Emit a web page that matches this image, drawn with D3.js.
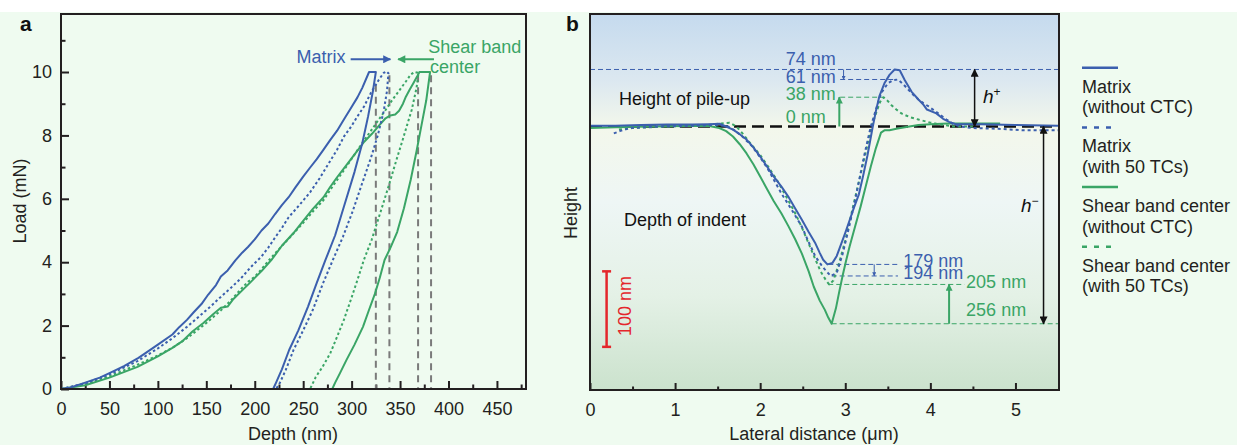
<!DOCTYPE html>
<html>
<head>
<meta charset="utf-8">
<script src="https://cdn.jsdelivr.net/npm/d3@7"></script>
<style>
  body { margin: 0; background: #fff; }
  svg text { font-family: Arial, "Liberation Sans", sans-serif; }
</style>
</head>
<body>
<svg id="chart" width="1237" height="445"></svg>
<script>
// ---------------- data ----------------
// panel a : [depth (nm), load (mN)]
const matrixCurve = [[0,0],[10,0.05],[25,0.2],[40,0.36],[50,0.5],[65,0.72],[80,0.98],[100,1.4],[115,1.72],[122,1.95],[130,2.18],[137,2.42],[145,2.68],[152,2.98],[160,3.28],[165,3.55],[172,3.74],[180,4.06],[187,4.3],[193,4.48],[200,4.72],[207,5.0],[214,5.22],[221,5.52],[228,5.8],[235,6.05],[242,6.36],[250,6.7],[257,6.98],[264,7.25],[271,7.55],[278,7.86],[285,8.15],[292,8.5],[299,8.85],[306,9.2],[311,9.5],[318,10],
  [325,10],[322,9.4],[317,8.6],[311,7.75],[303,6.85],[292,5.75],[283,4.85],[273,4.07],[264,3.35],[255,2.6],[245,1.85],[235.5,1.23],[228,0.62],[222,0.2],[219,0]];
const matrixTCCurve = [[0,0],[25,0.18],[50,0.46],[79,0.88],[100,1.28],[115,1.6],[130,1.96],[143,2.3],[155,2.62],[164,2.88],[175,3.18],[186,3.5],[196,3.85],[207,4.18],[214,4.46],[221,4.78],[228,5.08],[235,5.42],[246,5.8],[257,6.2],[267,6.65],[278,7.2],[285,7.55],[292,7.96],[300,8.3],[306,8.6],[313,8.92],[320,9.35],[328,9.75],[333,9.97],[336,10.02],[338,9.96],
  [336.5,9.4],[333,8.75],[327,8.0],[320,7.3],[311,6.5],[301,5.6],[291,4.8],[280.6,4.07],[270,3.3],[260,2.5],[250,1.85],[240,1.23],[232,0.6],[226,0.2],[222,0]];
const shearCurve = [[0,0],[25,0.12],[50,0.36],[79,0.7],[100,1.03],[115,1.3],[125,1.5],[136,1.82],[147,2.08],[157,2.36],[165,2.56],[172,2.6],[178,2.84],[186,3.08],[196,3.38],[207,3.72],[218,4.1],[228,4.52],[240,4.92],[250,5.3],[260,5.68],[271,6.05],[278,6.38],[285,6.68],[296,7.12],[306,7.52],[313,7.8],[321,8.05],[328,8.3],[335,8.54],[340,8.63],[345,8.66],[349,8.78],[353,9.0],[356,9.22],[360,9.45],[364,9.66],[368,9.88],[370,10],
  [381,10],[377,9.1],[372,8.3],[367,7.5],[361,6.6],[354,5.7],[347,4.95],[340,4.45],[334,4.07],[329,3.5],[324,3.0],[318,2.5],[311.7,1.96],[303,1.4],[294.6,0.91],[288,0.5],[283,0.2],[280,0]];
const shearTCCurve = [[0,0],[25,0.15],[50,0.4],[80,0.78],[100,1.06],[115,1.3],[130,1.6],[150,2.08],[165,2.48],[175,2.78],[186,3.16],[193,3.38],[200,3.54],[207,3.78],[214,4.04],[221,4.28],[235,4.74],[250,5.24],[260,5.6],[271,5.96],[281,6.42],[292,6.9],[302,7.35],[313,7.85],[320,8.15],[328,8.5],[335,8.8],[342,9.12],[350,9.45],[356,9.7],[361,9.92],[365,10.0],[369,9.97],
  [367,9.5],[362,8.8],[357,8.3],[352.6,7.85],[345,7.1],[338,6.38],[330,5.6],[320.6,4.7],[312.6,4.07],[306,3.44],[299,2.8],[292,2.18],[285,1.65],[278,1.13],[270,0.7],[263,0.38],[259,0.12],[257,0]];
const residualDepths = [325, 339, 368.6, 382];
const depthTicks = [0, 50, 100, 150, 200, 250, 300, 350, 400, 450];
const loadTicks = [0, 2, 4, 6, 8, 10];

// panel b : [lateral distance (um), height (nm)]
const matrixProfile = [[0,1],[0.3,1],[0.6,2],[0.9,2.5],[1.2,2.5],[1.4,3],[1.52,3.5],[1.6,0],[1.68,-4],[1.76,-10],[1.84,-17],[1.92,-27],[2.0,-39],[2.08,-52],[2.16,-65],[2.25,-78],[2.33,-91],[2.41,-106],[2.49,-121],[2.57,-137],[2.65,-152],[2.7,-164],[2.74,-173],[2.79,-179],[2.85,-177],[2.9,-168],[2.95,-153],[3.0,-138],[3.05,-122],[3.1,-106],[3.16,-88],[3.21,-64],[3.26,-38],[3.32,-2],[3.36,20],[3.4,39],[3.46,56],[3.52,67],[3.58,74],[3.64,73],[3.7,60],[3.78,45],[3.86,35],[3.92,28],[3.96,22],[4.07,17],[4.15,10],[4.22,6],[4.3,3],[4.6,3],[5.0,2],[5.5,1]];
const matrixTCProfile = [[0.28,-9],[0.35,-6],[0.47,-2],[0.8,0],[1.2,1],[1.5,2],[1.62,0],[1.7,-5],[1.8,-14],[1.9,-25],[2.0,-40],[2.1,-57],[2.25,-87],[2.37,-108],[2.49,-130],[2.57,-150],[2.65,-169],[2.72,-180],[2.77,-187],[2.83,-194],[2.9,-190],[2.97,-165],[3.05,-128],[3.13,-88],[3.22,-39],[3.3,0],[3.36,22],[3.42,43],[3.5,56],[3.56,60],[3.62,61],[3.68,55],[3.74,48],[3.8,41],[3.86,35],[3.92,30],[3.98,26],[4.08,18],[4.19,9],[4.27,3],[4.35,0],[4.5,-2],[4.8,-3],[5.1,-5],[5.5,-5]];
const shearProfile = [[0,-2],[0.3,-1],[0.7,0],[1.1,0.5],[1.4,0.5],[1.52,-2],[1.6,-6],[1.68,-13],[1.76,-23],[1.84,-35],[1.92,-49],[2.0,-65],[2.08,-81],[2.16,-97],[2.25,-113],[2.33,-129],[2.41,-146],[2.49,-165],[2.57,-188],[2.63,-208],[2.7,-226],[2.76,-238],[2.8,-248],[2.84,-256],[2.89,-236],[2.93,-214],[2.97,-193],[3.01,-174],[3.05,-156],[3.1,-136],[3.18,-104],[3.24,-78],[3.3,-52],[3.36,-28],[3.42,-8],[3.46,-5],[3.52,-5],[3.6,-3],[3.7,-1],[3.86,2],[4.0,3],[4.2,4],[4.5,4],[4.82,4]];
const shearTCProfile = [[0.34,-4],[0.5,-2],[0.9,0],[1.3,1],[1.55,4],[1.64,5],[1.72,0],[1.8,-10],[1.9,-24],[2.0,-37],[2.1,-53],[2.2,-70],[2.3,-90],[2.4,-110],[2.49,-131],[2.57,-152],[2.65,-173],[2.71,-188],[2.77,-199],[2.81,-205],[2.86,-200],[2.92,-180],[3.0,-148],[3.1,-100],[3.22,-43],[3.32,4],[3.37,20],[3.41,32],[3.45,38],[3.5,33],[3.54,28],[3.6,22],[3.66,17],[3.76,12],[3.86,9],[4.0,5],[4.1,3],[4.27,0],[4.5,0]];
const lateralTicks = [0, 1, 2, 3, 4, 5];

const legendLabels = [
  ["Matrix", "(without CTC)"],
  ["Matrix", "(with 50 TCs)"],
  ["Shear band center", "(without CTC)"],
  ["Shear band center", "(with 50 TCs)"]
];

// ---------------- setup ----------------
const blue = "#3b5fae";
const green = "#3aa566";
const ink = "#231f20";
const svg = d3.select("#chart");
const defs = svg.append("defs");

// page background (mint)
svg.append("rect").attr("x", 0).attr("y", 12).attr("width", 1237).attr("height", 433).attr("fill", "#effbf0");

function marker(id, color, len, wid) {
  defs.append("marker").attr("id", id)
    .attr("viewBox", "0 0 10 10").attr("refX", 9).attr("refY", 5)
    .attr("markerUnits", "userSpaceOnUse")
    .attr("markerWidth", len).attr("markerHeight", wid)
    .attr("orient", "auto-start-reverse")
    .append("path").attr("d", "M0,0L10,5L0,10z").attr("fill", color);
}
marker("arrBlueA", blue, 12, 8);
marker("arrGreenA", green, 12, 8);
marker("arrBlack", "#111", 10, 8);
marker("arrGreen", green, 10, 7);
marker("arrBlueS", blue, 5, 4);

function styleAxis(g) {
  g.select(".domain").remove();
  g.selectAll(".tick line").attr("stroke", ink).attr("stroke-width", 2);
  g.selectAll(".tick text").attr("fill", ink).attr("font-size", "18px");
}

// ================= panel a =================
const ax = d3.scaleLinear().domain([0, 480]).range([61, 526]);
const ay = d3.scaleLinear().domain([0, 11.83]).range([389, 14]);

const gA = svg.append("g");

// minor + major ticks
gA.append("g").attr("transform", "translate(0,389)")
  .call(d3.axisBottom(ax).tickValues(d3.range(25, 480, 50)).tickSize(-4.5).tickFormat(""))
  .call(styleAxis);
gA.append("g").attr("transform", "translate(0,389)")
  .call(d3.axisBottom(ax).tickValues(depthTicks).tickSize(-8).tickPadding(13).tickFormat(d3.format("d")))
  .call(styleAxis);
gA.append("g").attr("transform", "translate(61,0)")
  .call(d3.axisLeft(ay).tickValues([1, 3, 5, 7, 9, 11]).tickSize(-4.5).tickFormat(""))
  .call(styleAxis);
gA.append("g").attr("transform", "translate(61,0)")
  .call(d3.axisLeft(ay).tickValues(loadTicks).tickSize(-8).tickPadding(9).tickFormat(d3.format("d")))
  .call(styleAxis);

// residual depth markers
gA.selectAll(".resid")
  .data(residualDepths)
  .join("line")
  .attr("x1", d => ax(d)).attr("x2", d => ax(d))
  .attr("y1", (d, i) => ay(i === 0 ? 9.6 : 9.9)).attr("y2", ay(0))
  .attr("stroke", "#7a7a7a").attr("stroke-width", 2)
  .attr("stroke-dasharray", "7,5");

const lineA = d3.line().x(d => ax(d[0])).y(d => ay(d[1]));
const seriesA = [
  { data: shearTCCurve, color: green, dash: "2.5,2.5" },
  { data: shearCurve, color: green, dash: null },
  { data: matrixTCCurve, color: blue, dash: "2.5,2.5" },
  { data: matrixCurve, color: blue, dash: null }
];
gA.selectAll(".curve")
  .data(seriesA)
  .join("path")
  .attr("d", d => lineA(d.data))
  .attr("fill", "none")
  .attr("stroke", d => d.color)
  .attr("stroke-width", 2)
  .attr("stroke-linejoin", "round")
  .attr("stroke-dasharray", d => d.dash);

// annotations
gA.append("text").attr("x", ax(243)).attr("y", ay(10.28))
  .attr("fill", blue).attr("font-size", "18px").text("Matrix");
gA.append("line").attr("x1", ax(299)).attr("x2", ax(340))
  .attr("y1", ay(10.4)).attr("y2", ay(10.4))
  .attr("stroke", blue).attr("stroke-width", 2).attr("marker-end", "url(#arrBlueA)");
gA.append("line").attr("x1", ax(385)).attr("x2", ax(348))
  .attr("y1", ay(10.4)).attr("y2", ay(10.4))
  .attr("stroke", green).attr("stroke-width", 2).attr("marker-end", "url(#arrGreenA)");
gA.append("text").attr("x", ax(379)).attr("y", ay(10.6))
  .attr("fill", green).attr("font-size", "18px").text("Shear band");
gA.append("text").attr("x", ax(381)).attr("y", ay(9.97))
  .attr("fill", green).attr("font-size", "18px").text("center");

// frame
gA.append("rect").attr("x", 61).attr("y", 14).attr("width", 465).attr("height", 375)
  .attr("fill", "none").attr("stroke", ink).attr("stroke-width", 2);

gA.append("text").attr("x", 293).attr("y", 440).attr("text-anchor", "middle")
  .attr("font-size", "18px").attr("fill", ink).text("Depth (nm)");
gA.append("text").attr("transform", "translate(26,201) rotate(-90)")
  .attr("text-anchor", "middle").attr("font-size", "18px").attr("fill", ink).text("Load (mN)");
gA.append("text").attr("x", 20).attr("y", 31).attr("font-size", "21px")
  .attr("font-weight", "bold").attr("fill", "#111").text("a");

// ================= panel b =================
const bx = d3.scaleLinear().domain([0, 5.5]).range([590, 1058]);
const by = d3.scaleLinear().domain([-342, 146]).range([390, 14]);

const grad = defs.append("linearGradient").attr("id", "bgB")
  .attr("x1", "0%").attr("y1", "0%").attr("x2", "0%").attr("y2", "100%");
grad.selectAll("stop")
  .data([
    { o: "0%", c: "#c5daee" },
    { o: "18%", c: "#dce8f0" },
    { o: "30%", c: "#f3f7eb" },
    { o: "50%", c: "#eef6f5" },
    { o: "75%", c: "#e4f1e6" },
    { o: "100%", c: "#cbe2cd" }
  ])
  .join("stop").attr("offset", d => d.o).attr("stop-color", d => d.c);

const gB = svg.append("g");
gB.append("rect").attr("x", 590).attr("y", 14).attr("width", 469).attr("height", 376)
  .attr("fill", "url(#bgB)");

gB.append("g").attr("transform", "translate(0,390)")
  .call(d3.axisBottom(bx).tickValues(d3.range(0.5, 5.5, 1)).tickSize(-3.5).tickFormat(""))
  .call(styleAxis);
gB.append("g").attr("transform", "translate(0,390)")
  .call(d3.axisBottom(bx).tickValues(lateralTicks).tickSize(-7).tickPadding(13).tickFormat(d3.format("d")))
  .call(styleAxis);

// reference guide lines
function guide(x1, x2, h, color) {
  gB.append("line").attr("x1", bx(x1)).attr("x2", bx(x2))
    .attr("y1", by(h)).attr("y2", by(h))
    .attr("stroke", color).attr("stroke-width", 1).attr("stroke-dasharray", "5,3");
}
guide(0, 5.5, 74, blue);
guide(2.94, 3.6, 61, blue);
guide(2.94, 3.44, 38, green);
guide(2.8, 3.62, -179, blue);
guide(2.84, 3.62, -194, blue);
guide(2.8, 4.4, -205, green);
guide(2.84, 5.5, -256, green);

// baseline
gB.append("line").attr("x1", bx(0)).attr("x2", bx(5.5))
  .attr("y1", by(0)).attr("y2", by(0))
  .attr("stroke", "#111").attr("stroke-width", 2.5).attr("stroke-dasharray", "12,6");

const lineB = d3.line().x(d => bx(d[0])).y(d => by(d[1]));
const seriesB = [
  { data: shearTCProfile, color: green, dash: "3,3" },
  { data: shearProfile, color: green, dash: null },
  { data: matrixTCProfile, color: blue, dash: "3,3" },
  { data: matrixProfile, color: blue, dash: null }
];
gB.selectAll(".profile")
  .data(seriesB)
  .join("path")
  .attr("d", d => lineB(d.data))
  .attr("fill", "none")
  .attr("stroke", d => d.color)
  .attr("stroke-width", 2)
  .attr("stroke-linejoin", "round")
  .attr("stroke-dasharray", d => d.dash);

// arrows
function arrow(x, h1, h2, color, mk, w, both) {
  const l = gB.append("line").attr("x1", bx(x)).attr("x2", bx(x))
    .attr("y1", by(h1)).attr("y2", by(h2))
    .attr("stroke", color).attr("stroke-width", w)
    .attr("marker-end", `url(#${mk})`);
  if (both) l.attr("marker-start", `url(#${mk})`);
}
arrow(2.98, 74, 61, blue, "arrBlueS", 1, false);
arrow(3.34, -179, -194, blue, "arrBlueS", 1, false);
arrow(2.93, 0, 38, green, "arrGreen", 2, false);
arrow(4.22, -256, -205, green, "arrGreen", 2, false);
arrow(4.52, 0, 74, "#111", "arrBlack", 1.5, true);
arrow(5.33, 0, -256, "#111", "arrBlack", 1.5, true);

// value labels
const valueLabels = [
  { t: "74 nm", x: 2.3, h: 80, c: blue },
  { t: "61 nm", x: 2.3, h: 56, c: blue },
  { t: "38 nm", x: 2.3, h: 34, c: green },
  { t: "0 nm", x: 2.3, h: 4.5, c: green },
  { t: "179 nm", x: 3.68, h: -182, c: blue },
  { t: "194 nm", x: 3.68, h: -198, c: blue },
  { t: "205 nm", x: 4.42, h: -210, c: green },
  { t: "256 nm", x: 4.42, h: -246, c: green }
];
gB.selectAll(".vlab")
  .data(valueLabels)
  .join("text")
  .attr("x", d => bx(d.x)).attr("y", d => by(d.h))
  .attr("fill", d => d.c).attr("font-size", "18px")
  .text(d => d.t);

gB.append("text").attr("x", 619).attr("y", 105).attr("font-size", "18px").attr("fill", "#111")
  .text("Height of pile-up");
gB.append("text").attr("x", 624).attr("y", 226).attr("font-size", "18px").attr("fill", "#111")
  .text("Depth of indent");

const hp = gB.append("text").attr("x", 983).attr("y", 103).attr("font-size", "19px").attr("fill", "#111");
hp.append("tspan").attr("font-style", "italic").text("h");
hp.append("tspan").attr("font-size", "12px").attr("dy", "-7").text("+");
const hm = gB.append("text").attr("x", 1021).attr("y", 212).attr("font-size", "19px").attr("fill", "#111");
hm.append("tspan").attr("font-style", "italic").text("h");
hm.append("tspan").attr("font-size", "12px").attr("dy", "-7").text("\u2212");

// 100 nm scale bar
const red = "#e4262b";
const sbx = bx(0.195);
gB.append("line").attr("x1", sbx).attr("x2", sbx).attr("y1", by(-188)).attr("y2", by(-286))
  .attr("stroke", red).attr("stroke-width", 2.5);
[-188, -286].forEach(h => {
  gB.append("line").attr("x1", sbx - 4.5).attr("x2", sbx + 4.5).attr("y1", by(h)).attr("y2", by(h))
    .attr("stroke", red).attr("stroke-width", 2.5);
});
gB.append("text").attr("transform", `translate(${sbx + 24},${by(-233)}) rotate(-90)`)
  .attr("text-anchor", "middle").attr("font-size", "18px").attr("fill", red).text("100 nm");

gB.append("rect").attr("x", 590).attr("y", 14).attr("width", 469).attr("height", 376)
  .attr("fill", "none").attr("stroke", ink).attr("stroke-width", 2);

gB.append("text").attr("x", 814).attr("y", 440).attr("text-anchor", "middle")
  .attr("font-size", "18px").attr("fill", ink).text("Lateral distance (\u03bcm)");
gB.append("text").attr("transform", "translate(577,213) rotate(-90)")
  .attr("text-anchor", "middle").attr("font-size", "18px").attr("fill", ink).text("Height");
gB.append("text").attr("x", 566).attr("y", 31).attr("font-size", "21px")
  .attr("font-weight", "bold").attr("fill", "#111").text("b");

// ================= legend =================
const legendStyles = [
  { color: blue, dash: null },
  { color: blue, dash: "5,7" },
  { color: green, dash: null },
  { color: green, dash: "5,7" }
];
const leg = svg.append("g").attr("transform", "translate(1082,0)");
legendLabels.forEach((lab, i) => {
  const y0 = 67.7 + i * 59.7;
  leg.append("line").attr("x1", 0).attr("x2", 36).attr("y1", y0).attr("y2", y0)
    .attr("stroke", legendStyles[i].color).attr("stroke-width", 2.5)
    .attr("stroke-dasharray", legendStyles[i].dash);
  lab.forEach((t, j) => {
    leg.append("text").attr("x", 0).attr("y", y0 + 25 + j * 20.6)
      .attr("font-size", "18px").attr("fill", ink).text(t);
  });
});
</script>
</body>
</html>
